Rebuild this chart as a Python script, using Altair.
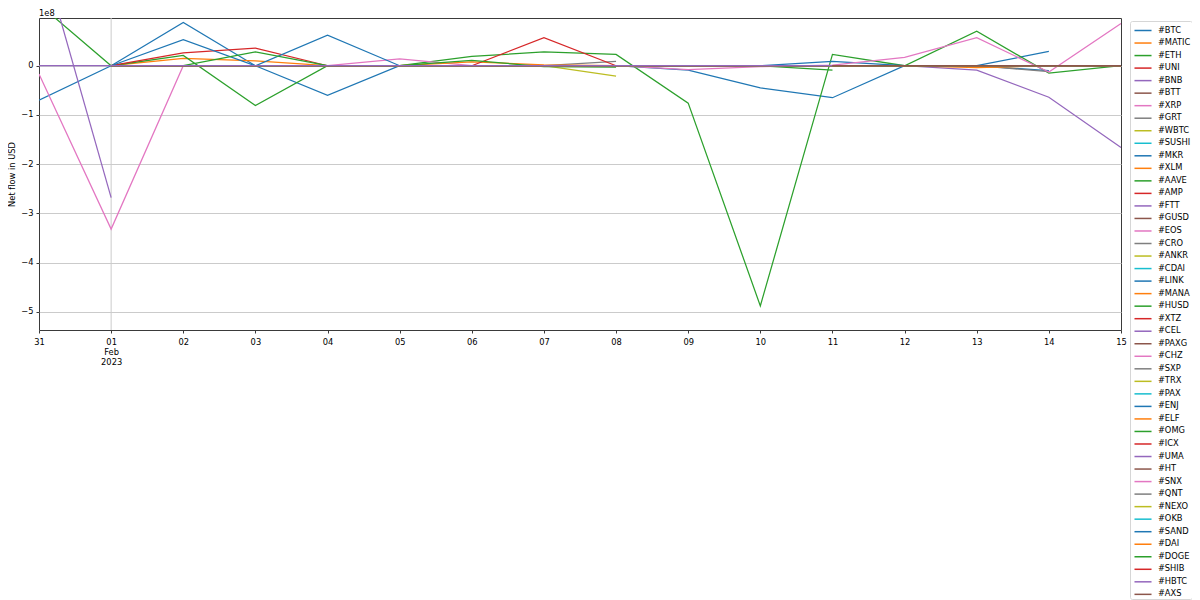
import altair as alt
import pandas as pd

# ---------------- data ----------------
DATES = ["2023-01-31", "2023-02-01", "2023-02-02", "2023-02-03", "2023-02-04",
         "2023-02-05", "2023-02-06", "2023-02-07", "2023-02-08", "2023-02-09",
         "2023-02-10", "2023-02-11", "2023-02-12", "2023-02-13", "2023-02-14",
         "2023-02-15"]

SERIES = ["#BTC", "#MATIC", "#ETH", "#UNI", "#BNB", "#BTT", "#XRP", "#GRT", "#WBTC",
          "#SUSHI", "#MKR", "#XLM", "#AAVE", "#AMP", "#FTT", "#GUSD", "#EOS", "#CRO",
          "#ANKR", "#CDAI", "#LINK", "#MANA", "#HUSD", "#XTZ", "#CEL", "#PAXG", "#CHZ",
          "#SXP", "#TRX", "#PAX", "#ENJ", "#ELF", "#OMG", "#ICX", "#UMA", "#HT", "#SNX",
          "#QNT", "#NEXO", "#OKB", "#SAND", "#DAI", "#DOGE", "#SHIB", "#HBTC", "#AXS"]

TAB10 = ["#1f77b4", "#ff7f0e", "#2ca02c", "#d62728", "#9467bd",
         "#8c564b", "#e377c2", "#7f7f7f", "#bcbd22", "#17becf"]

N = None
# net flow in USD, one value per date in DATES (None = no data)
BTC  = [-0.70e8, 0, 0.88e8, 0, -0.60e8, 0, 0, 0, 0, -0.09e8, -0.45e8, -0.65e8, 0, 0, 0.29e8, N]
MATIC = [N, 0, 0.15e8, 0.10e8, 0, N, N, N, N, N, N, N, N, N, N, N]
ETH  = [1.25e8, 0, 0.21e8, -0.81e8, 0, 0, 0.19e8, 0.28e8, 0.23e8, -0.76e8, -4.88e8, 0.23e8, 0, 0.70e8, -0.15e8, 0]
UNI  = [N, 0, 0.26e8, 0.36e8, 0, N, N, N, N, N, N, N, N, N, N, N]
BNB  = [2.47e8, -2.68e8, N, N, N, N, N, N, N, N, N, N, N, N, N, N]
XRP  = [-0.17e8, -3.32e8, 0, 0, 0, 0.14e8, 0, 0, 0, N, N, N, N, N, N, N]
GRT  = [N, N, N, N, N, N, 0, 0, 0.09e8, N, N, N, N, N, N, N]
WBTC = [N, N, N, N, N, N, 0, 0, -0.21e8, N, N, N, N, N, N, N]
MKR  = [N, 0, 0.53e8, 0, 0.62e8, 0, 0, 0, 0, 0, 0, 0.09e8, 0, 0, -0.10e8, N]
XLM  = [N, N, N, N, N, 0, 0.08e8, 0.02e8, 0, N, N, N, N, N, N, N]
AAVE = [N, N, 0, 0.28e8, 0, N, N, N, N, N, N, N, N, N, N, N]
AMP  = [N, N, N, N, N, N, 0, 0.57e8, 0, N, N, N, N, N, N, N]
FTT  = [N, N, N, N, N, N, N, N, N, N, N, N, 0, -0.09e8, -0.64e8, -1.66e8]
CRO  = [N, N, N, N, N, N, N, N, N, N, N, N, 0, 0, -0.12e8, N]
MANA = [N, N, N, N, N, N, N, N, N, N, N, N, 0, -0.04e8, 0, N]
HUSD = [N, N, N, N, N, 0, 0.11e8, -0.02e8, -0.03e8, N, N, N, N, N, N, N]
OMG  = [N, N, N, N, N, N, N, N, N, 0, 0, -0.09e8, N, N, N, N]
SNX  = [N, N, N, N, N, N, N, N, 0, -0.08e8, -0.02e8, 0.01e8, 0.17e8, 0.57e8, -0.13e8, 0.86e8]
HBTC = [0, 0, 0, 0, 0, 0, 0, 0, 0, 0, 0, 0, N, N, N, N]
AXS  = [N, N, N, N, N, N, N, N, N, N, N, 0, 0, 0, 0, 0]
FLAT = [N, 0, 0, 0, 0, 0, 0, 0, 0, 0, 0, 0, 0, 0, 0, 0]

NAMED = {"#BTC": BTC, "#MATIC": MATIC, "#ETH": ETH, "#UNI": UNI, "#BNB": BNB,
         "#XRP": XRP, "#GRT": GRT, "#WBTC": WBTC, "#MKR": MKR, "#XLM": XLM,
         "#AAVE": AAVE, "#AMP": AMP, "#FTT": FTT, "#CRO": CRO, "#MANA": MANA,
         "#HUSD": HUSD, "#OMG": OMG, "#SNX": SNX, "#HBTC": HBTC, "#AXS": AXS}

GRID_DATES = ["2023-02-01"]
Y_DOMAIN = [-5.37e8, 0.97e8]
Y_TICKS = [-5e8, -4e8, -3e8, -2e8, -1e8, 0]

# ---------------- build table ----------------
rows = []
for i, name in enumerate(SERIES):
    vals = NAMED.get(name, FLAT)
    for d, v in zip(DATES, vals):
        if v is not None:
            rows.append({"series": name, "order": i, "date": d, "value": v})
df = pd.DataFrame(rows)

def ms(d):
    return int(pd.Timestamp(d, tz="UTC").value // 10**6)

x_ticks = [ms(d) for d in DATES]
colors = [TAB10[i % 10] for i in range(len(SERIES))]
FONT = "DejaVu Sans"
FS = 8.3

x_enc = alt.X(
    "date:T",
    scale=alt.Scale(type="utc", domain=[ms(DATES[0]), ms(DATES[-1])]),
    axis=alt.Axis(
        title=None, grid=False, values=x_ticks, labelAngle=0,
        labelExpr="utcdate(datum.value) == 1 ? [utcFormat(datum.value, '%d'), utcFormat(datum.value, '%b'), utcFormat(datum.value, '%Y')] : utcFormat(datum.value, '%d')",
        labelLineHeight=10, labelPadding=4, labelFlush=False, labelOverlap=False,
    ),
)

rule = alt.Chart(pd.DataFrame({"date": GRID_DATES})).mark_rule(
    color="#cbcbcb", strokeWidth=1
).encode(x=x_enc)

lines = alt.Chart(df).mark_line(strokeWidth=1.25, clip=True).encode(
    x=x_enc,
    y=alt.Y(
        "value:Q",
        scale=alt.Scale(domain=Y_DOMAIN, nice=False, zero=False),
        axis=alt.Axis(
            title="Net flow in USD", values=Y_TICKS, grid=True,
            labelExpr="datum.value == 0 ? '0' : format(datum.value / 1e8, 'd')",
            titlePadding=4, labelPadding=3,
        ),
    ),
    color=alt.Color(
        "series:N",
        scale=alt.Scale(domain=SERIES, range=colors),
        legend=alt.Legend(
            title=None, orient="none", legendX=1091, legendY=3,
            symbolType="M-1.1,0H1.1", symbolSize=240, symbolStrokeWidth=1.5,
            symbolOffset=3.5,
            labelFont=FONT, labelFontSize=FS, labelColor="black", labelLimit=200,
            labelOffset=6.4, rowPadding=0.53, padding=1, symbolLimit=100,
            strokeColor="#d6d6d6", fillColor="white", cornerRadius=2,
        ),
    ),
    order=alt.Order("order:Q"),
)

chart = alt.layer(rule, lines).properties(
    width=1082, height=312,
    title=alt.TitleParams("1e8", anchor="start", frame="group", font=FONT,
                          fontSize=FS, fontWeight="normal", color="black",
                          offset=0),
    autosize=alt.AutoSizeParams(type="none"),
    padding={"left": 31, "top": 10, "right": 71, "bottom": 300},
).configure_view(
    stroke="#3a3a3a", strokeWidth=1
).configure_axis(
    domain=False, tickColor="#3a3a3a", tickSize=3,
    labelFont=FONT, labelFontSize=FS, labelColor="black",
    titleFont=FONT, titleFontSize=FS, titleFontWeight="normal", titleColor="black",
    gridColor="#cbcbcb", gridWidth=1,
)

chart.save("out.html", embed_options={"renderer": "svg", "actions": False})
